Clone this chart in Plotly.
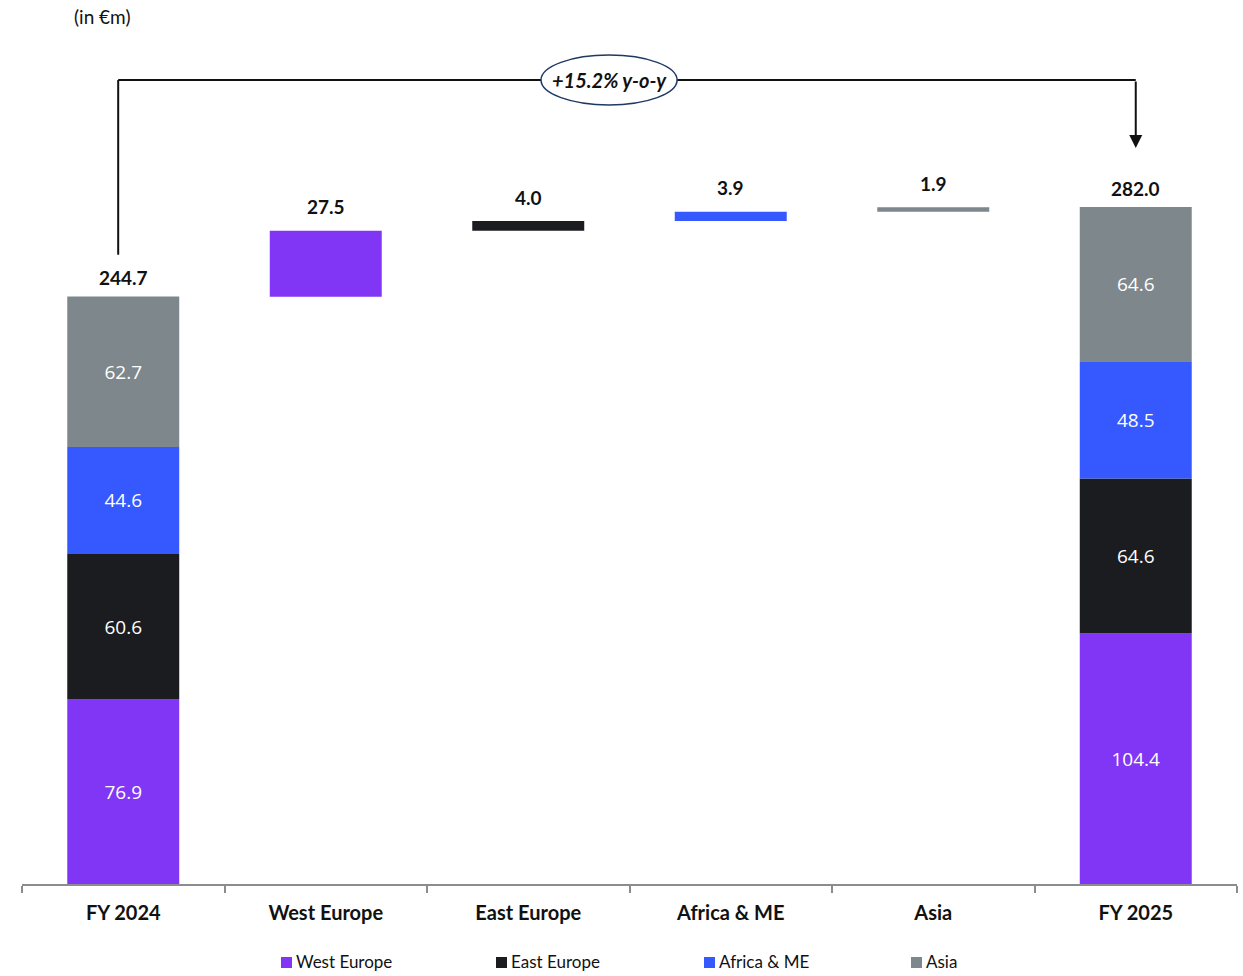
import plotly.graph_objects as go

# ---------------- data ----------------
regions = ["West Europe", "East Europe", "Africa & ME", "Asia"]
fy2024 = [76.9, 60.6, 44.6, 62.7]
fy2025 = [104.4, 64.6, 48.5, 64.6]
deltas = [27.5, 4.0, 3.9, 1.9]
totals = [244.7, 282.0]
categories = ["FY 2024", "West Europe", "East Europe", "Africa & ME", "Asia", "FY 2025"]
colors = ["#8236F5", "#1B1C20", "#3559FF", "#7E878C"]

BOLD = "Lato"
REG = "Open Sans"

W, H = 1243, 976
ML, MR, MT, MB = 22, 6, 20, 92
PW, PH = W - ML - MR, H - MT - MB


def px_x(p):
    return (p - ML) / PW


def px_y(p):
    return (H - MB - p) / PH


fig = go.Figure()

cum24 = 0.0
cum25 = 0.0
run = totals[0]
for i, r in enumerate(regions):
    base = [cum24, run, cum25]
    vals = [fy2024[i], deltas[i], fy2025[i]]
    txt = [f"{fy2024[i]:.1f}", "", f"{fy2025[i]:.1f}"]
    fig.add_trace(go.Bar(
        name=r,
        x=["FY 2024", r, "FY 2025"],
        y=vals,
        base=base,
        marker=dict(color=colors[i], line=dict(width=0)),
        text=txt,
        textposition="inside",
        insidetextanchor="middle",
        textfont=dict(family=REG, size=19, color="white"),
        hoverinfo="skip",
        showlegend=False,
    ))
    fig.add_annotation(x=r, y=run + deltas[i], text=f"<b>{deltas[i]:.1f}</b>",
                       showarrow=False, yanchor="middle", yshift=24,
                       font=dict(family=BOLD, size=19, color="#111111"))
    cum24 += fy2024[i]
    cum25 += fy2025[i]
    run += deltas[i]

for cat, t in zip(["FY 2024", "FY 2025"], totals):
    fig.add_annotation(x=cat, y=t, text=f"<b>{t:.1f}</b>", showarrow=False,
                       yanchor="middle", yshift=19,
                       font=dict(family=BOLD, size=19, color="#111111"))

# connector with growth bubble
growth = (totals[1] / totals[0] - 1) * 100
top_y = 335
left_x = -0.025
right_x = 5.0
fig.add_shape(type="line", x0=left_x, x1=left_x, y0=totals[0] + 17.5, y1=top_y,
              line=dict(color="#111111", width=2))
fig.add_shape(type="line", x0=left_x, x1=right_x, y0=top_y, y1=top_y,
              line=dict(color="#111111", width=2))
fig.add_annotation(x=right_x, y=totals[1] + 24.7, ax=right_x, ay=top_y,
                   xref="x", yref="y", axref="x", ayref="y",
                   showarrow=True, arrowhead=2, arrowsize=1.3, arrowwidth=2,
                   arrowcolor="#111111", text="")
fig.add_shape(type="circle", x0=2.063, x1=2.735, y0=324.6, y1=345.4,
              fillcolor="white", line=dict(color="#1F3864", width=1.5), layer="above")
fig.add_annotation(x=2.399, y=top_y, text=f"<b><i>+{growth:.1f}% y-o-y</i></b>",
                   showarrow=False, font=dict(family=BOLD, size=20, color="#111111"))

# unit note
fig.add_annotation(xref="paper", yref="paper", x=px_x(72), y=px_y(17),
                   xanchor="left", yanchor="middle", text="(in €m)", showarrow=False,
                   font=dict(family=BOLD, size=19, color="#111111"))

# custom legend (bottom)
legend_px = [281, 496, 704, 911]
LEG_Y = 962
for r, c, lx in zip(regions, colors, legend_px):
    fig.add_shape(type="rect", xref="paper", yref="paper",
                  x0=px_x(lx), x1=px_x(lx + 11), y0=px_y(LEG_Y + 6), y1=px_y(LEG_Y - 5),
                  fillcolor=c, line=dict(width=0))
    fig.add_annotation(xref="paper", yref="paper", x=px_x(lx + 13), y=px_y(LEG_Y),
                       xanchor="left", yanchor="middle", text=r, showarrow=False,
                       font=dict(family=BOLD, size=17, color="#111111"))

fig.update_layout(
    width=W, height=H,
    margin=dict(l=ML, r=MR, t=MT, b=MB, autoexpand=False),
    paper_bgcolor="white", plot_bgcolor="white",
    barmode="overlay", bargap=0.447,
    showlegend=False,
    xaxis=dict(type="category", categoryorder="array", categoryarray=categories,
               range=[-0.5, 5.5], tickson="boundaries", ticks="outside",
               ticklen=7, tickwidth=2, tickcolor="#8C8C8C",
               showline=True, linecolor="#8C8C8C", linewidth=2,
               showgrid=False, zeroline=False, automargin=False,
               ticklabelstandoff=10,
               tickvals=categories, ticktext=[f"<b>{c}</b>" for c in categories],
               tickfont=dict(family=BOLD, size=20, color="#111111")),
    yaxis=dict(range=[0, 360], visible=False, showgrid=False, zeroline=False),
    font=dict(family=BOLD),
)

fig.write_html("out.html")
